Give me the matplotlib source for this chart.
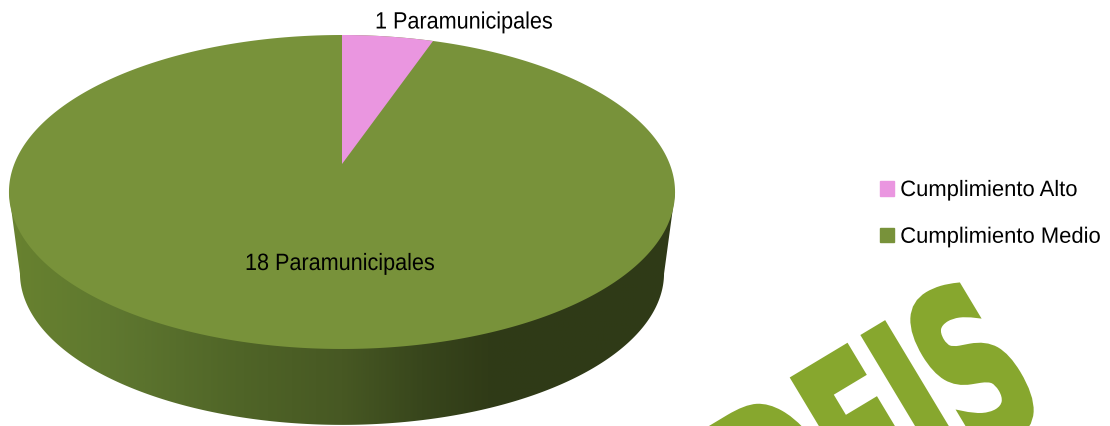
import numpy as np
import matplotlib
matplotlib.use('Agg')
import matplotlib.pyplot as plt
from matplotlib.colors import LinearSegmentedColormap
from matplotlib.patches import Patch, Polygon
from matplotlib.patheffects import AbstractPathEffect
from matplotlib.transforms import Affine2D

categories = ['Cumplimiento Alto', 'Cumplimiento Medio']
values = [1, 18]
slice_labels = ['1 Paramunicipales', '18 Paramunicipales']
watermark = 'DEIS'

PINK = '#ea96e0'
GREEN = '#78923a'

# perspective of the tilted disc, in pixels
CX, CY = 342, 165
TILT = 0.1783
R_X = 327.7


def project(theta, scale=1.0, drop=0.0):
    """Angle clockwise from 12 o'clock -> picture position"""
    u, v = np.sin(theta), np.cos(theta)
    w = 1 + TILT * v
    x = CX + scale * R_X * u / w
    y = CY + scale * (-122.58 * v / w + 165 / w - 165) + drop
    return x, y


class Squeeze(AbstractPathEffect):
    """Condensed text, optionally emboldened by a stroke"""

    def __init__(self, sx, stroke=0.0):
        super().__init__()
        self.sx = sx
        self.stroke = stroke

    def draw_path(self, renderer, gc, tpath, affine, rgbFace=None):
        gc0 = renderer.new_gc()
        gc0.copy_properties(gc)
        gc0.set_linewidth(self.stroke)
        gc0.set_foreground(rgbFace)
        gc0.set_joinstyle('miter')
        renderer.draw_path(gc0, tpath, Affine2D().scale(self.sx, 1) + affine, rgbFace)
        gc0.restore()


plt.rcParams['font.family'] = ['Liberation Sans', 'DejaVu Sans']

fig = plt.figure(figsize=(11.10, 4.27), dpi=100)
ax = fig.add_axes([0, 0, 1, 1])

# side wall with horizontal shading
th = np.linspace(0, 2 * np.pi, 721)
top_x, top_y = project(th)
low_x, low_y = project(th, scale=0.967, drop=82)
left, right = np.argmin(low_x), np.argmax(low_x)
arc = np.arange(right, left + 1)
wall = np.vstack([
    np.column_stack([low_x[arc], low_y[arc]]),
    [[top_x.min(), top_y[np.argmin(top_x)]], [top_x.max(), top_y[np.argmax(top_x)]]],
])
wall_patch = Polygon(wall, closed=True, facecolor='none', edgecolor='none')
ax.add_patch(wall_patch)

stops = [(0.0, '#68822f'), (0.15, '#5f7830'), (0.35, '#4f6427'), (0.5, '#475823'),
         (0.62, '#38461c'), (0.72, '#303b17'), (1.0, '#2f3a17')]
shade = LinearSegmentedColormap.from_list('wall', stops)
im = ax.imshow(np.linspace(0, 1, 400)[None, :], cmap=shade, aspect='auto',
               extent=[top_x.min(), top_x.max(), 430, 190])
im.set_clip_path(wall_patch)

# top surface, slices follow the values
ax.add_patch(Polygon(np.column_stack([top_x, top_y]), closed=True,
                     facecolor=GREEN, edgecolor='none'))
end = 2 * np.pi * values[0] / sum(values)
sx, sy = project(np.linspace(0, end, 60))
ax.add_patch(Polygon(np.column_stack([np.r_[CX, sx], np.r_[CY, sy]]), closed=True,
                     facecolor=PINK, edgecolor='none'))

narrow = [Squeeze(0.915)]
ax.text(375, 23.5, slice_labels[0], fontsize=17, ha='left', va='center', path_effects=narrow)
ax.text(245, 265, slice_labels[1], fontsize=17, ha='left', va='center', path_effects=narrow)

leg = ax.legend(handles=[Patch(color=PINK, label=categories[0]), Patch(color=GREEN, label=categories[1])],
                loc='upper left', bbox_to_anchor=(880, 181), bbox_transform=ax.transData,
                frameon=False, fontsize=16, handlelength=0.64, handleheight=0.64,
                handletextpad=0.27, labelspacing=1.16, borderpad=0, borderaxespad=0)
for t in leg.get_texts():
    t.set_path_effects([Squeeze(0.99)])

# watermark, runs off the bottom edge
ax.text(781, 574, watermark, fontsize=158, fontweight='bold', family='DejaVu Sans',
        color='#87a72e', rotation=31, rotation_mode='anchor', ha='left', va='baseline',
        path_effects=[Squeeze(0.55, 4.5)], zorder=0, clip_on=True)

ax.set_xlim(0, 1110)
ax.set_ylim(427, 0)
ax.axis('off')

fig.savefig('out.png', dpi=100)
